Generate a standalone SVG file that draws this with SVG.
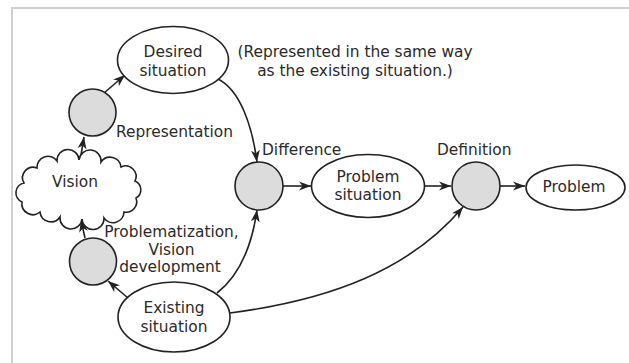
<svg xmlns="http://www.w3.org/2000/svg" width="629" height="363" viewBox="0 0 629 363">
<style>
.t{font-family:"DejaVu Sans",Verdana,sans-serif;font-size:15.4px;fill:#2a2a2a}
.m{text-anchor:middle}
.n{fill:#fff;stroke:#222;stroke-width:1.6}
.g{fill:#dcdcdc;stroke:#222;stroke-width:1.6}
.c{fill:none;stroke:#222;stroke-width:1.6}
</style>
<defs>
<marker id="ah" markerUnits="userSpaceOnUse" markerWidth="13" markerHeight="10" refX="12" refY="5" orient="auto">
<path d="M0,0.5 L12,5 L0,9.5 L3.5,5 z" fill="#222"/>
</marker>
</defs>
<rect width="629" height="363" fill="#fff"/>
<path d="M12,363 V8 H629" fill="none" stroke="#cfcfcf" stroke-width="2"/>
<g id="connectors">
<path class="c" d="M80,161 L84,137" marker-end="url(#ah)"/>
<path class="c" d="M104,93 L125,75" marker-end="url(#ah)"/>
<path class="c" d="M218,79 C240,90 252,125 257,162" marker-end="url(#ah)"/>
<path class="c" d="M217,293 C240,275 252,245 257,210" marker-end="url(#ah)"/>
<path class="c" d="M128,298 L108,281" marker-end="url(#ah)"/>
<path class="c" d="M85,238 L81,220" marker-end="url(#ah)"/>
<path class="c" d="M283,186 L311,186" marker-end="url(#ah)"/>
<path class="c" d="M425,186 L451,186" marker-end="url(#ah)"/>
<path class="c" d="M500,186 L525,186" marker-end="url(#ah)"/>
<path class="c" d="M230,313 C330,300 410,270 463,207" marker-end="url(#ah)"/>
</g>
<g id="desired">
<ellipse class="n" cx="173" cy="60" rx="55.5" ry="33.5"/>
<text class="t m" x="173" y="57">Desired</text>
<text class="t m" x="173" y="76">situation</text>
</g>
<g id="note">
<text class="t m" x="355" y="57">(Represented in the same way</text>
<text class="t m" x="355" y="76">as the existing situation.)</text>
</g>
<g id="representation">
<circle class="g" cx="92.5" cy="112.5" r="23.5"/>
<text class="t" x="116" y="137">Representation</text>
</g>
<g id="vision">
<path class="n" d="M24,183 A10.5,10.5 0 0 1 37,168 A11,11 0 0 1 57,161 A11,11 0 0 1 79,160 A11,11 0 0 1 101,162 A11,11 0 0 1 121,167 A10.5,10.5 0 0 1 135,181 A9.5,9.5 0 0 1 136,198 A10.5,10.5 0 0 1 124,212 A11,11 0 0 1 104,218 A11,11 0 0 1 82,219 A11,11 0 0 1 60,217 A11,11 0 0 1 40,212 A11,11 0 0 1 22,202 A10,10 0 0 1 24,183 Z"/>
<text class="t m" x="75" y="187">Vision</text>
</g>
<g id="problematization">
<circle class="g" cx="93" cy="261.5" r="23.5"/>
<text class="t m" x="171.5" y="237">Problematization,</text>
<text class="t m" x="171.5" y="255">Vision</text>
<text class="t m" x="170" y="272">development</text>
</g>
<g id="existing">
<ellipse class="n" cx="174" cy="317" rx="56" ry="35"/>
<text class="t m" x="174" y="313">Existing</text>
<text class="t m" x="174" y="332">situation</text>
</g>
<g id="difference">
<circle class="g" cx="259" cy="186" r="24"/>
<text class="t" x="262" y="155">Difference</text>
</g>
<g id="problem-situation">
<ellipse class="n" cx="368" cy="186" rx="56.5" ry="31.5"/>
<text class="t m" x="368" y="182">Problem</text>
<text class="t m" x="368" y="200">situation</text>
</g>
<g id="definition">
<circle class="g" cx="476" cy="186" r="24"/>
<text class="t" x="437" y="155">Definition</text>
</g>
<g id="problem">
<ellipse class="n" cx="575.5" cy="187.5" rx="49.5" ry="22.5"/>
<text class="t m" x="574" y="192">Problem</text>
</g>
</svg>
